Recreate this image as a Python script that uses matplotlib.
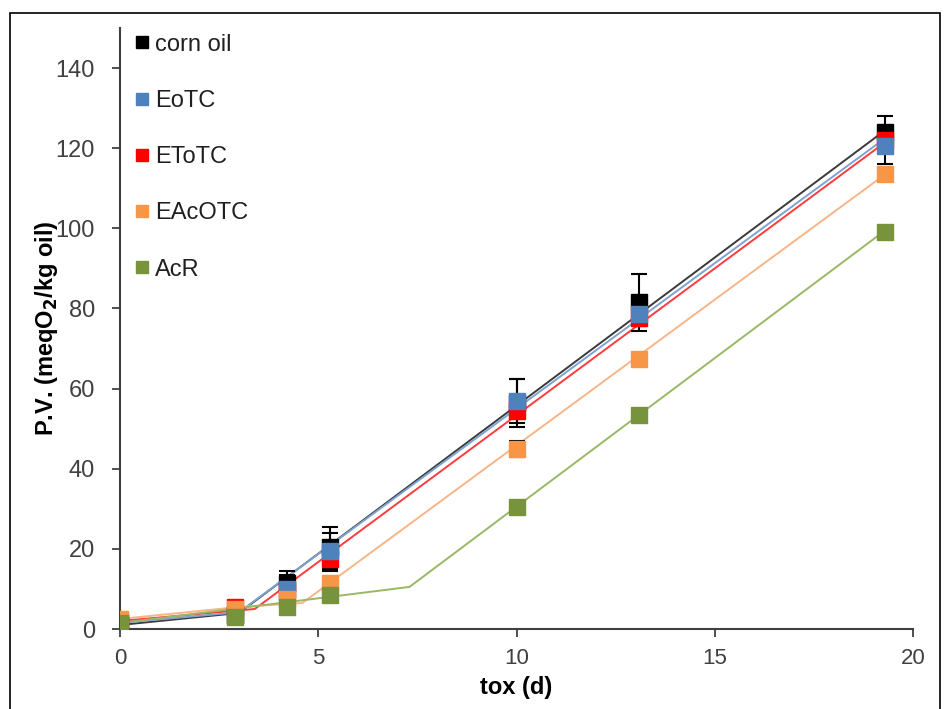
import matplotlib.pyplot as plt
from matplotlib.patches import Rectangle

plt.rcParams["font.family"] = ["Liberation Sans", "DejaVu Sans"]

# sampling days (tox, d)
days = [0, 2.9, 4.2, 5.3, 10, 13.1, 19.3]

names = ["corn oil", "EoTC", "EToTC", "EAcOTC", "AcR"]
marker_colors = ["#000000", "#4F81BD", "#FF0000", "#F79646", "#77933C"]
line_colors = ["#3a3a3a", "#7ea3d2", "#ff3b3b", "#f9b487", "#9ab765"]
# drawing order of the markers (Excel series order)
draw_order = [0, 2, 1, 3, 4]

# peroxide value (meqO2/kg oil)
pv = [
    [1.0, 3.5, 11.5, 20.5, 56.5, 81.5, 124.0],   # corn oil
    [1.5, 3.5, 10.0, 19.5, 57.0, 78.5, 120.5],   # EoTC
    [2.0, 5.5, 9.5, 17.5, 54.5, 77.5, 122.0],    # EToTC
    [2.5, 5.0, 7.5, 11.5, 45.0, 67.5, 113.5],    # EAcOTC
    [1.5, 3.0, 5.5, 8.5, 30.5, 53.5, 99.0],      # AcR
]
pv_err = [
    [0.5, 0.5, 3.0, 5.0, 6.0, 7.0, 4.0],
    [0.5, 0.5, 3.5, 4.5, 5.5, 3.0, 4.5],
    [0.5, 0.5, 2.0, 3.0, 2.0, 2.0, 2.0],
    [0.5, 0.5, 0.5, 0.5, 2.0, 0.5, 0.5],
    [0.5, 0.5, 0.5, 0.5, 0.5, 0.5, 0.5],
]

# fitted kinetic model lines (induction + linear propagation)
fit_x = [
    [0, 3.0, 19.3],
    [0, 3.0, 19.3],
    [0, 3.4, 19.3],
    [0, 3.0, 4.6, 19.3],
    [0, 7.3, 19.3],
]
fit_y = [
    [1.0, 4.0, 124.5],
    [1.5, 4.2, 122.5],
    [2.0, 5.0, 121.5],
    [2.5, 5.5, 6.5, 113.5],
    [1.5, 10.5, 99.5],
]

fig = plt.figure(figsize=(9.44, 7.09), dpi=100)
ax = fig.add_axes((120 / 944, 1 - 629 / 709, (913 - 120) / 944, (629 - 28) / 709))

for i in draw_order:
    ax.plot(fit_x[i], fit_y[i], color=line_colors[i], lw=1.4, zorder=2)
for i in draw_order:
    ax.errorbar(
        days, pv[i], yerr=pv_err[i], fmt="none", ecolor="black",
        elinewidth=1.5, capsize=6, capthick=1.5, zorder=3,
    )
handles = {}
for i in draw_order:
    (h,) = ax.plot(
        days, pv[i], ls="none", marker="s", ms=11,
        mfc=marker_colors[i], mec=marker_colors[i], label=names[i], zorder=4,
    )
    handles[i] = h

ax.set_xlim(0, 20)
ax.set_ylim(0, 150)
ax.set_xticks([0, 5, 10, 15, 20])
ax.set_yticks(range(0, 141, 20))
ax.tick_params(length=6, width=1.3, color="#404040", labelcolor="#404040")
ax.tick_params(axis="y", pad=12, labelsize=17)
ax.tick_params(axis="x", pad=8, labelsize=16)
for side in ["top", "right"]:
    ax.spines[side].set_visible(False)
for side in ["left", "bottom"]:
    ax.spines[side].set_color("#404040")
    ax.spines[side].set_linewidth(1.5)

ax.set_xlabel("tox (d)", fontsize=17, fontweight="bold", labelpad=5)
ax.set_ylabel("P.V. (meqO$_\\mathbf{2}$/kg oil)", fontsize=17, fontweight="bold")
ax.yaxis.set_label_coords(-0.076, 0.5)

leg = ax.legend(
    [handles[i] for i in range(len(names))], names,
    loc="upper left", bbox_to_anchor=(0.0, 1.018), frameon=False, fontsize=17,
    handlelength=0.5, handletextpad=0.3, labelspacing=1.45, markerscale=0.85,
    borderaxespad=0.3,
)
for t in leg.get_texts():
    t.set_color("#202020")

fig.patches.append(
    Rectangle((10 / 944, -0.01), 930 / 944, 1 - 13 / 709 + 0.01,
              transform=fig.transFigure, fill=False, ec="black", lw=1.2)
)

fig.savefig("out.png", dpi=100)
